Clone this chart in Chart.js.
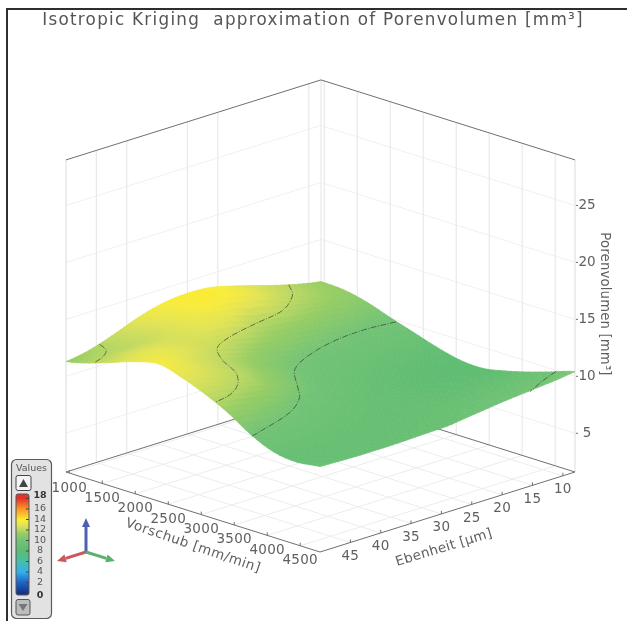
<!DOCTYPE html>
<html>
<head>
<meta charset="utf-8">
<title>Isotropic Kriging approximation of Porenvolumen</title>
<script src="https://cdn.jsdelivr.net/npm/chart.js@4/dist/chart.umd.min.js"></script>
<style>
	html, body { margin: 0; padding: 0; background: #fff; }
	canvas { display: block; filter: blur(0.35px); }
</style>
</head>
<body>
<canvas id="chart" width="627" height="621"></canvas>
<script>
const titleText = 'Isotropic Kriging  approximation of Porenvolumen [mm³]';
const vorschubTitle = 'Vorschub [mm/min]';
const ebenheitTitle = 'Ebenheit [µm]';
const porenTitle = 'Porenvolumen [mm³]';

const vorschubTicks = [1000, 1500, 2000, 2500, 3000, 3500, 4000, 4500];
const ebenheitTicks = [10, 15, 20, 25, 30, 35, 40, 45];
const ebenheitWallLines = [10, 25, 30, 40, 45];
const porenTicks = [5, 10, 15, 20, 25];

// surface, one column per Vorschub value, each running over ebenheitGrid
const ebenheitGrid = [8, 11, 14, 17, 20, 23, 26, 29, 32, 35, 38, 41, 44, 47, 50];
const vorschubGrid = [950, 1300, 1650, 2000, 2350, 2700, 3050, 3400, 3750, 4100, 4450, 4800];
const z950 = [11.3, 11.6, 12.0, 12.45, 12.95, 13.4, 13.8, 13.95, 13.9, 13.65, 13.2, 12.6, 12.0, 11.55, 11.3];
const z1300 = [11.2, 11.4, 11.75, 12.1, 12.6, 13.2, 13.6, 13.85, 13.75, 13.3, 12.8, 12.35, 12.1, 12.0, 11.8];
const z1650 = [10.75, 10.9, 11.1, 11.35, 11.6, 11.85, 12.05, 12.6, 13.0, 13.0, 12.8, 12.75, 12.8, 12.75, 12.5];
const z2000 = [10.05, 10.1, 10.2, 10.35, 10.55, 10.8, 11.05, 11.35, 11.75, 12.2, 12.5, 12.8, 13.1, 13.25, 13.2];
const z2350 = [9.4, 9.45, 9.55, 9.65, 9.75, 9.85, 10.0, 10.4, 10.85, 11.35, 11.85, 12.35, 12.8, 13.3, 13.65];
const z2700 = [8.75, 8.8, 8.9, 9.05, 9.2, 9.4, 9.6, 9.85, 10.35, 10.9, 11.5, 12.05, 12.45, 12.85, 13.1];
const z3050 = [8.25, 8.3, 8.4, 8.55, 8.75, 8.95, 9.2, 9.5, 9.9, 10.4, 10.9, 11.5, 11.8, 12.1, 12.3];
const z3400 = [8.15, 8.2, 8.3, 8.4, 8.55, 8.75, 8.95, 9.15, 9.4, 9.7, 9.95, 10.35, 10.7, 11.05, 11.3];
const z3750 = [8.55, 8.55, 8.55, 8.6, 8.65, 8.75, 8.85, 8.95, 9.05, 9.2, 9.35, 9.55, 9.7, 9.85, 10.0];
const z4100 = [9.1, 9.05, 9.0, 8.95, 8.9, 8.9, 8.9, 8.9, 8.9, 8.95, 9.0, 9.05, 9.1, 9.1, 9.1];
const z4450 = [9.75, 9.6, 9.5, 9.4, 9.3, 9.2, 9.1, 9.0, 8.95, 8.9, 8.9, 8.9, 8.85, 8.85, 8.85];
const z4800 = [10.4, 10.2, 10.05, 9.9, 9.75, 9.55, 9.35, 9.15, 9.1, 9.05, 9.0, 9.0, 9.0, 9.05, 9.1];
const surfaceColumns = [z950, z1300, z1650, z2000, z2350, z2700, z3050, z3400, z3750, z4100, z4450, z4800];

// contour lines: [Vorschub, Ebenheit]
const contour12a = [[977, 44.8], [1173, 45.8], [1312, 47.9], [1381, 50]];
const contour12b = [[950, 13.3], [1227, 15.7], [1516, 20.4], [1631, 26], [1762, 31.9], [1936, 35.8], [2263, 38.5], [2683, 40.8], [2979, 43.8], [3160, 47.1], [3222, 50]];
const contour10a = [[2105, 8.2], [2055, 13], [2105, 18.7], [2278, 24.8], [2502, 29.2], [2933, 33.4], [3210, 36.1], [3491, 40.8], [3772, 50]];
const contour10b = [[4511, 8], [4646, 11.8], [4800, 15.4]];

// colour scale
const colorValues = [0, 2, 4, 6, 8, 10, 11.3, 12, 13, 13.8, 14, 16, 18];
const colorRgb = [
	[20, 50, 140], [30, 100, 200], [50, 175, 235], [70, 190, 170], [92, 188, 112], [115, 195, 118], [150, 205, 100],
	[186, 215, 100], [226, 228, 85], [248, 236, 60], [250, 235, 50], [250, 150, 40], [230, 50, 40]
];
const colorbarTicks = [0, 2, 4, 6, 8, 10, 12, 14, 16, 18];

// box limits and projection to scene pixels
const xMin = 950, xMax = 4800, yMin = 8, yMax = 50, zMin = 1.6, zMax = 29;
const backX = 321, backY = 392;
const zPx = 11.39;

function project(x, y, z) {
	const u = (x - xMin) / (xMax - xMin);
	const v = (y - yMin) / (yMax - yMin);
	return {
		x: backX + 254 * u - 255 * v,
		y: backY + 80 * u + 80 * v - (z - zMin) * zPx
	};
}

function colorFor(z) {
	let i = 0;
	while (i < colorValues.length - 2 && z > colorValues[i + 1]) i++;
	const t = Math.min(1, Math.max(0, (z - colorValues[i]) / (colorValues[i + 1] - colorValues[i])));
	const c = colorRgb[i].map((a, k) => Math.round(a + (colorRgb[i + 1][k] - a) * t));
	return `rgb(${c[0]},${c[1]},${c[2]})`;
}

const datasets = [];

function addLine(points, color, width, extra) {
	datasets.push(Object.assign({
		data: points,
		showLine: true,
		fill: false,
		borderColor: color,
		borderWidth: width,
		pointRadius: 0,
		tension: 0
	}, extra || {}));
}

const wallColor = '#e9e9e9';
const floorColor = '#ececec';
const boxColor = '#6f6f6f';

// back walls
porenTicks.forEach(z => {
	addLine([project(xMin, yMax, z), project(xMin, yMin, z), project(xMax, yMin, z)], '#f0f0f0', 1);
});
ebenheitWallLines.forEach(y => {
	addLine([project(xMin, y, zMin), project(xMin, y, zMax)], wallColor, 1.2);
});
vorschubTicks.forEach(x => {
	addLine([project(x, yMin, zMin), project(x, yMin, zMax)], wallColor, 1.2);
});
addLine([project(xMin, yMax, zMin), project(xMin, yMax, zMax)], '#dcdcdc', 1);
addLine([project(xMin, yMin, zMin), project(xMin, yMin, zMax)], wallColor, 1.2);
addLine([project(xMax, yMin, zMin), project(xMax, yMin, zMax)], '#dcdcdc', 1);

// floor
vorschubTicks.forEach(x => {
	addLine([project(x, yMin, zMin), project(x, yMax, zMin)], floorColor, 1);
});
ebenheitTicks.forEach(y => {
	addLine([project(xMin, y, zMin), project(xMax, y, zMin)], floorColor, 1);
});

// box outline
addLine([project(xMin, yMax, zMax), project(xMin, yMin, zMax), project(xMax, yMin, zMax)], boxColor, 1);
addLine([project(xMin, yMax, zMin), project(xMin, yMin, zMin), project(xMax, yMin, zMin)], boxColor, 1);
addLine([project(xMin, yMax, zMin), project(xMax, yMax, zMin), project(xMax, yMin, zMin)], boxColor, 1);

// axis tick marks
vorschubTicks.forEach(x => {
	const p = project(x, yMax, zMin);
	addLine([p, { x: p.x, y: p.y - 3 }], boxColor, 1);
});
ebenheitTicks.forEach(y => {
	const p = project(xMax, y, zMin);
	addLine([p, { x: p.x, y: p.y - 3 }], boxColor, 1);
});
porenTicks.forEach(z => {
	const p = project(xMax, yMin, z);
	addLine([{ x: p.x + 1, y: p.y }, { x: p.x + 3, y: p.y }], boxColor, 1);
});

// smooth patch through the read grid values, only used to tessellate the drawing
function spline(p0, p1, p2, p3, t) {
	return 0.5 * (2 * p1 + (p2 - p0) * t + (2 * p0 - 5 * p1 + 4 * p2 - p3) * t * t + (3 * p1 - p0 - 3 * p2 + p3) * t * t * t);
}
function surfaceZ(i, j, s, t) {
	const cols = surfaceColumns.length - 1, rows = ebenheitGrid.length - 1;
	const col = k => surfaceColumns[Math.min(cols, Math.max(0, k))];
	const row = (c, k) => c[Math.min(rows, Math.max(0, k))];
	const along = k => spline(row(col(k), j - 1), row(col(k), j), row(col(k), j + 1), row(col(k), j + 2), t);
	return spline(along(i - 1), along(i), along(i + 1), along(i + 2), s);
}

// surface patches, back cells first
const shadeSteps = 4;
for (let i = 0; i < vorschubGrid.length - 1; i++) {
	for (let j = 0; j < ebenheitGrid.length - 1; j++) {
		const x0 = vorschubGrid[i], x1 = vorschubGrid[i + 1];
		const y0 = ebenheitGrid[j], y1 = ebenheitGrid[j + 1];
		const at = (s, t) => project(x0 + (x1 - x0) * s, y0 + (y1 - y0) * t, surfaceZ(i, j, s, t));
		for (let m = 0; m < shadeSteps; m++) {
			for (let n = 0; n < shadeSteps; n++) {
				const s0 = m / shadeSteps, s1 = (m + 1) / shadeSteps;
				const t0 = n / shadeSteps, t1 = (n + 1) / shadeSteps;
				const color = colorFor(surfaceZ(i, j, (s0 + s1) / 2, (t0 + t1) / 2));
				const p = at(s0, t0);
				addLine([p, at(s1, t0), at(s1, t1), at(s0, t1), p], color, 0.7, { fill: 'shape', backgroundColor: color });
			}
		}
	}
}

// contours on top of the surface
const contourStyle = { borderDash: [6, 1.5, 1, 1.5], tension: 0.35 };
[[contour12a, 12], [contour12b, 11.9], [contour10a, 9.9], [contour10b, 9.9]].forEach(([pts, z]) => {
	addLine(pts.map(([x, y]) => project(x, y, z)), 'rgba(40,55,40,0.8)', 0.8, contourStyle);
});

// Chart.js paints the first dataset last, so reverse to keep the painter's order
datasets.reverse();

const textColor = '#5f5f5f';

function drawTextAt(ctx, text, x, y, font, color, angle, spacing) {
	ctx.save();
	ctx.translate(x, y);
	if (angle) ctx.rotate(angle * Math.PI / 180);
	ctx.font = font;
	ctx.letterSpacing = spacing || '0px';
	ctx.fillStyle = color;
	ctx.textAlign = 'center';
	ctx.textBaseline = 'middle';
	ctx.fillText(text, 0, 0);
	ctx.restore();
}

function drawArrow(ctx, x0, y0, x1, y1, color) {
	const a = Math.atan2(y1 - y0, x1 - x0);
	const hx = x1 - 9 * Math.cos(a), hy = y1 - 9 * Math.sin(a);
	ctx.strokeStyle = color;
	ctx.fillStyle = color;
	ctx.lineWidth = 3;
	ctx.beginPath();
	ctx.moveTo(x0, y0);
	ctx.lineTo(hx, hy);
	ctx.stroke();
	ctx.beginPath();
	ctx.moveTo(x1, y1);
	ctx.lineTo(hx + 4 * Math.sin(a), hy - 4 * Math.cos(a));
	ctx.lineTo(hx - 4 * Math.sin(a), hy + 4 * Math.cos(a));
	ctx.closePath();
	ctx.fill();
}

function roundedBox(ctx, x, y, w, h, r, fill, stroke, lw) {
	ctx.beginPath();
	ctx.roundRect(x, y, w, h, r);
	ctx.fillStyle = fill;
	ctx.fill();
	ctx.strokeStyle = stroke;
	ctx.lineWidth = lw;
	ctx.stroke();
}

function drawColorbar(ctx) {
	roundedBox(ctx, 11.5, 459.5, 40, 159, 5, '#e2e2e2', '#5a5a5a', 1.2);
	drawTextAt(ctx, 'Values', 31.5, 469, '9.5px "DejaVu Sans"', '#555', 0);

	roundedBox(ctx, 16, 475.5, 15, 15, 2, '#f4f4f4', '#444', 1);
	ctx.fillStyle = '#444';
	ctx.beginPath();
	ctx.moveTo(23.5, 479);
	ctx.lineTo(28, 487);
	ctx.lineTo(19, 487);
	ctx.closePath();
	ctx.fill();

	const top = 494, bottom = 595, span = 18;
	const posOf = v => 593 - v * 5.25;
	const grad = ctx.createLinearGradient(0, bottom, 0, top);
	colorValues.forEach((v, k) => {
		const f = Math.min(1, Math.max(0, (bottom - posOf(v)) / (bottom - top)));
		const c = colorRgb[k];
		grad.addColorStop(f, `rgb(${c[0]},${c[1]},${c[2]})`);
	});
	roundedBox(ctx, 16, top, 13, bottom - top, 2, grad, '#555', 1);

	colorbarTicks.forEach(v => {
		const y = posOf(v);
		ctx.strokeStyle = '#444';
		ctx.lineWidth = 1;
		ctx.beginPath();
		ctx.moveTo(26, y);
		ctx.lineTo(29, y);
		ctx.stroke();
		const ends = v === 0 || v === span;
		const labelY = v === 0 ? 595.5 : (v === span ? 496 : y);
		drawTextAt(ctx, String(v), 40, labelY, (ends ? 'bold ' : '') + '9.5px "DejaVu Sans"', ends ? '#333' : '#555', 0);
	});

	roundedBox(ctx, 16, 599.5, 14, 15.5, 2, '#bdbdbd', '#555', 1);
	ctx.fillStyle = '#777';
	ctx.beginPath();
	ctx.moveTo(23, 611);
	ctx.lineTo(27.5, 604);
	ctx.lineTo(18.5, 604);
	ctx.closePath();
	ctx.fill();
}

const labelsPlugin = {
	id: 'labels',
	afterDraw(chart) {
		const ctx = chart.ctx;
		const sx = chart.scales.x, sy = chart.scales.y;
		const at = p => ({ x: sx.getPixelForValue(p.x), y: sy.getPixelForValue(p.y) });
		const tickFont = '13.5px "DejaVu Sans"';

		// page frame
		ctx.fillStyle = '#2e2e2e';
		ctx.fillRect(6, 8, 621, 2);
		ctx.fillRect(6, 8, 2, 613);

		drawTextAt(ctx, titleText, 313, 21, '16.8px "DejaVu Sans"', '#555', 0, '1.27px');

		vorschubTicks.forEach(x => {
			const p = at(project(x, yMax, zMin));
			drawTextAt(ctx, String(x), p.x, p.y + 15, tickFont, textColor, 0, '0.3px');
		});
		ebenheitTicks.forEach(y => {
			const p = at(project(xMax, y, zMin));
			drawTextAt(ctx, String(y), p.x, p.y + 14, tickFont, textColor, 0, '0.3px');
		});
		porenTicks.forEach(z => {
			const p = at(project(xMax, yMin, z));
			drawTextAt(ctx, String(z), p.x + 12, p.y, tickFont, textColor, 0);
		});

		drawTextAt(ctx, vorschubTitle, 193, 546, '13.5px "DejaVu Sans"', textColor, 19, '0.5px');
		drawTextAt(ctx, ebenheitTitle, 444, 548, '13.5px "DejaVu Sans"', textColor, -17, '0.3px');
		drawTextAt(ctx, porenTitle, 604, 304, '13.2px "DejaVu Sans"', textColor, 90, '0.2px');

		drawColorbar(ctx);

		// orientation arrows
		drawArrow(ctx, 86, 552, 86, 518, '#4d62ae');
		drawArrow(ctx, 86, 552, 57, 561, '#c65a5c');
		drawArrow(ctx, 86, 552, 115, 561, '#5bb070');
	}
};

new Chart(document.getElementById('chart'), {
	type: 'scatter',
	data: { datasets },
	options: {
		responsive: false,
		animation: false,
		events: [],
		layout: { padding: 0 },
		scales: {
			x: { type: 'linear', display: false, min: 0, max: 627 },
			y: { type: 'linear', display: false, min: 0, max: 621, reverse: true }
		},
		plugins: {
			legend: { display: false },
			tooltip: { enabled: false }
		}
	},
	plugins: [labelsPlugin]
});
</script>
</body>
</html>
